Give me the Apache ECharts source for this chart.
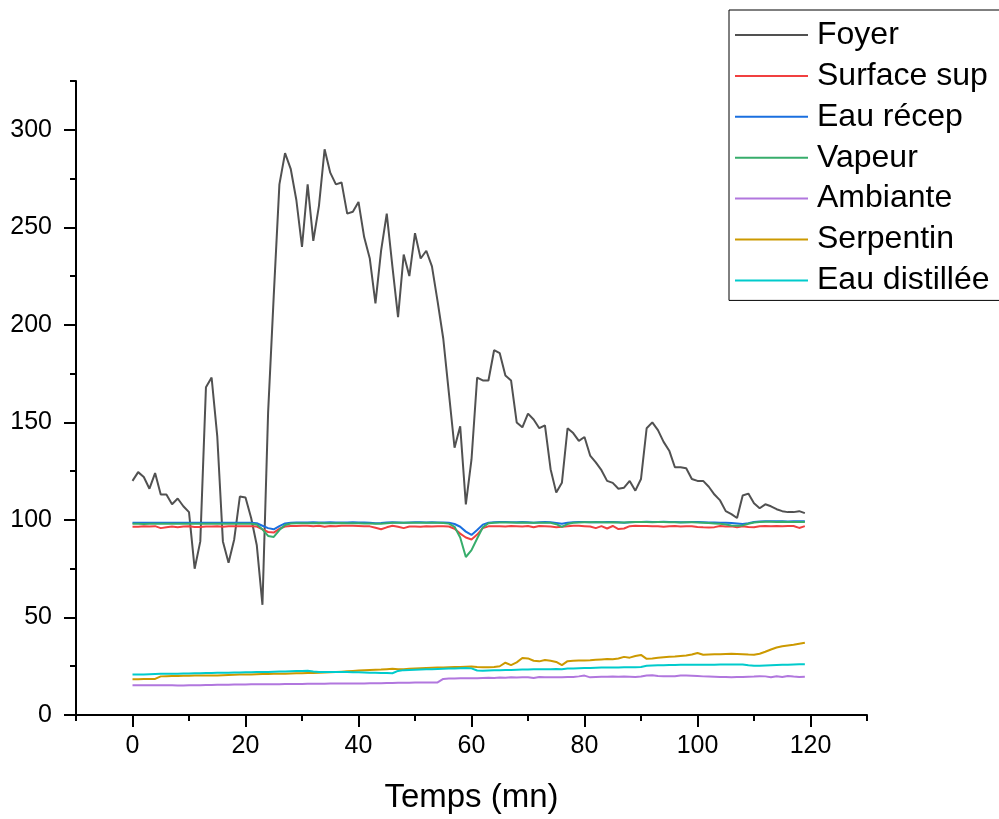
<!DOCTYPE html>
<html>
<head>
<meta charset="utf-8">
<script src="https://cdn.jsdelivr.net/npm/echarts@6/dist/echarts.min.js"></script>
<style>
html,body{margin:0;padding:0;background:#fff;}
#chart{width:999px;height:819px;}
</style>
</head>
<body>
<div id="chart"></div>
<script>
var time = [0,1,2,3,4,5,6,7,8,9,10,11,12,13,14,15,16,17,18,19,20,21,22,23,24,25,26,27,28,29,
30,31,32,33,34,35,36,37,38,39,40,41,42,43,44,45,46,47,48,49,50,51,52,53,54,55,56,57,58,59,
60,61,62,63,64,65,66,67,68,69,70,71,72,73,74,75,76,77,78,79,80,81,82,83,84,85,86,87,88,89,
90,91,92,93,94,95,96,97,98,99,100,101,102,103,104,105,106,107,108,109,110,111,112,113,114,115,116,117,118,119];

var foyer = [120,124.5,122,116,124,113,113,108,111,107,
104,75,89,168,173,143,89,78,90,112,
111.5,101,87,56.5,155,215,272,288,280,264,
240,272,243,261,290,278,272,273,257,258,
263,245,234,211,238,257,230,204,236,225,
247,234,238,230,212,193,165,137,148,108,
131,173,171.5,171.5,187,185.5,174,171.5,150,147.5,
154.5,151.5,147,148.5,126,114,119,147,144.5,140.5,
142.5,133,129.5,125.5,120,119,116,116.5,120,115,
121,147,150,146,140,135.5,127,127,126.5,121,
120,120,117,113,110,104.5,103,101,112.5,113.5,
108.5,106,108,107,105.5,104.5,104,104,104.5,103.5];

var surfaceSup = [96.5,96.5,96.8,96.6,96.8,95.8,96.2,96.6,96.3,96.6,
96.8,96.4,96.4,96.6,96.6,96.8,96.5,96.7,96.7,96.8,
96.8,96.8,96.6,95.2,93.8,93.5,95.5,96.6,96.9,96.9,
97,97,96.8,97,96.5,96.9,96.8,97,97,97,
96.9,96.8,96.7,96,95.2,96.2,97,96.5,95.8,96.6,
96.6,96.5,96.7,96.6,96.8,96.7,96.6,95.5,93,91,
90,92.5,95.8,96.7,96.8,96.8,96.6,96.9,96.8,96.6,
96.9,96.2,96.9,96.8,96.6,96.3,96.5,96.8,97,97,
96.8,96.6,95.8,96.8,95.6,96.9,95.3,95.6,96.8,97,
96.9,96.9,96.7,96.8,96.5,96.8,96.9,96.6,96.8,96.8,
96.4,96.2,96.1,96.3,96.9,96.6,96.7,96.2,96.8,96.4,
96.3,96.8,96.9,96.7,96.9,96.7,96.9,96.9,95.9,96.8];

var eauRecep = [98.6,98.6,98.5,98.5,98.6,98.6,98.6,98.5,98.5,98.6,
98.6,98.6,98.6,98.6,98.6,98.6,98.6,98.6,98.6,98.6,
98.6,98.6,98.3,97,95.8,95.2,96.8,98.2,98.6,98.7,
98.7,98.7,98.8,98.7,98.7,98.8,98.7,98.7,98.7,98.8,
98.7,98.7,98.6,98.3,98.4,98.7,98.8,98.7,98.6,98.7,
98.8,98.8,98.7,98.8,98.7,98.7,98.5,97.9,96.5,94,
92.3,94.8,97.6,98.6,98.8,98.9,98.9,98.8,98.8,98.9,
98.8,98.6,98.8,98.9,98.8,98.4,98,98.5,98.8,98.9,
98.9,98.8,98.9,98.8,98.9,98.9,98.8,98.6,98.8,98.9,
98.9,99,98.9,98.9,99,98.9,98.9,98.8,98.8,98.9,
98.9,98.8,98.7,98.7,98.6,98.5,98.4,98.2,97.9,98.3,
98.9,99.2,99.3,99.3,99.3,99.3,99.2,99.3,99.3,99.3];

var vapeur = [98,98,97.9,98,98,98,98.1,98,98,98,
98,98,98,98.1,98.1,98.1,98.1,98.1,98.1,98.1,
98.1,98,97.6,95.2,91.8,91.3,94.8,97.4,98.2,98.3,
98.3,98.3,98.3,98.4,98.3,98.3,98.3,98.4,98.3,98.3,
98.3,98.2,98.2,98,98.1,98.3,98.5,98.5,98.6,98.6,
98.6,98.5,98.6,98.5,98.5,98.4,98.1,96.5,91,81,
84.5,90.5,96.2,98.3,98.6,98.7,98.7,98.7,98.6,98.7,
98.6,98.5,98.6,98.6,98.5,97.8,96.4,97.9,98.6,98.7,
98.8,98.8,98.8,98.8,98.7,98.8,98.7,98.7,98.8,98.9,
98.9,98.9,98.8,98.9,98.9,98.8,98.8,98.7,98.8,98.8,
98.7,98.6,98.4,98.2,98,97.6,97.2,97,97.2,98,
98.7,98.9,99,99,98.9,99,98.9,98.9,98.9,98.9];

var ambiante = [15.3,15.3,15.3,15.3,15.2,15.2,15.2,15.2,15.1,15.1,
15.2,15.3,15.3,15.4,15.4,15.5,15.5,15.5,15.6,15.6,
15.6,15.7,15.7,15.7,15.8,15.8,15.8,15.9,15.9,15.9,
15.9,16,16,16,16,16.1,16.1,16.1,16.1,16.2,
16.2,16.2,16.3,16.3,16.3,16.4,16.4,16.5,16.5,16.5,
16.6,16.6,16.6,16.7,16.7,18.5,18.7,18.7,18.8,18.8,
18.9,18.9,19,19.1,19,19.2,19.1,19.3,19.2,19.3,
19.4,19,19.5,19.4,19.3,19.4,19.4,19.5,19.5,19.8,
20.2,19.3,19.5,19.6,19.6,19.7,19.6,19.7,19.6,19.5,
19.7,20.3,20.4,20,19.9,19.9,19.9,20.3,20.2,20.1,
20,19.8,19.7,19.6,19.5,19.5,19.4,19.5,19.5,19.6,
19.7,19.9,19.8,19.4,19.9,19.5,20,19.7,19.5,19.6];

var serpentin = [18.3,18.3,18.4,18.4,18.5,19.8,19.9,20,20,20.1,
20.1,20.2,20.2,20.2,20.3,20.3,20.4,20.5,20.6,20.7,
20.8,20.8,20.9,21,21,21.1,21.2,21.2,21.3,21.4,
21.4,21.5,21.5,21.7,21.8,21.9,22,22.2,22.4,22.6,
22.8,23,23.1,23.2,23.3,23.5,23.7,23.4,23.5,23.7,
23.9,24,24.1,24.2,24.3,24.4,24.5,24.6,24.6,24.7,
24.8,24.6,24.5,24.5,24.6,25,26.8,25.6,27,29.2,
29,27.8,27.5,28.2,27.8,27.2,25.6,27.6,27.8,27.9,
28,28.1,28.3,28.5,28.7,28.6,29,29.8,29.4,30.2,
30.8,28.8,29,29.3,29.6,29.8,30,30.3,30.5,31,
31.8,30.9,31,31.1,31.2,31.3,31.4,31.3,31.2,31,
30.9,31.4,32.4,33.6,34.6,35.2,35.6,36,36.5,37];

var eauDistillee = [20.7,20.8,20.8,20.9,21,21.1,21.1,21.2,21.2,21.3,
21.3,21.4,21.4,21.5,21.5,21.6,21.7,21.7,21.8,21.8,
21.9,21.9,22,22.1,22.1,22.2,22.3,22.3,22.4,22.5,
22.6,22.7,22.3,22.1,22.1,22.1,22,22,22,21.9,
21.9,21.8,21.7,21.6,21.5,21.5,21.4,22.6,23,23.1,
23.2,23.3,23.4,23.5,23.6,23.7,23.8,23.9,24,24.1,
23.9,22.8,22.7,22.8,22.9,23,23.1,23.1,23.2,23.3,
23.3,23.4,23.5,23.5,23.5,23.6,23.5,23.8,23.9,24,
24.1,24.1,24.2,24.3,24.3,24.4,24.4,24.5,24.5,24.5,
24.6,25.2,25.4,25.5,25.5,25.6,25.6,25.7,25.7,25.7,
25.8,25.8,25.8,25.8,25.9,25.9,25.9,25.9,25.9,25.5,
25.2,25.3,25.4,25.5,25.6,25.7,25.8,25.9,26,26];

var seriesNames = ['Foyer','Surface sup','Eau récep','Vapeur','Ambiante','Serpentin','Eau distillée'];
var seriesColors = ['#515151','#F14040','#1A6FDF','#37AD6B','#B177DE','#CC9900','#00CBCC'];
var seriesValues = [foyer, surfaceSup, eauRecep, vapeur, ambiante, serpentin, eauDistillee];

var xMajorTicks = [0,20,40,60,80,100,120];
var xMinorTicks = [-10,10,30,50,70,90,110,130];
var yMajorTicks = [0,50,100,150,200,250,300];
var yMinorTicks = [25,75,125,175,225,275,325];

var FONT = '"Liberation Sans", Arial, Helvetica, sans-serif';

function pairs(vals){ return vals.map(function(v,i){ return [time[i], v]; }); }

var chart = echarts.init(document.getElementById('chart'), null, {renderer:'canvas'});
chart.setOption({
  animation: false,
  backgroundColor: '#ffffff',
  textStyle: {fontFamily: FONT},
  grid: {left: 76, right: 132, top: 81, bottom: 101, containLabel: false},
  legend: {
    orient: 'vertical',
    left: 729, top: 10,
    padding: [9, 30, 4, 6],
    borderColor: '#000', borderWidth: 1,
    icon: 'rect', itemWidth: 73, itemHeight: 2, itemGap: 8.9,
    textStyle: {fontFamily: FONT, fontSize: 32, lineHeight: 31, color: '#000', padding: [0,0,0,4]},
    data: seriesNames
  },
  xAxis: [{
    type: 'value', min: -10, max: 130,
    name: 'Temps (mn)', nameLocation: 'middle', nameGap: 66,
    nameTextStyle: {fontFamily: FONT, fontSize: 33, color: '#000'},
    axisLine: {show: true, onZero: false, lineStyle: {color: '#000', width: 2}},
    axisTick: {show: true, inside: false, length: 12, lineStyle: {color: '#000', width: 2}, customValues: xMajorTicks},
    axisLabel: {show: true, margin: 19, fontSize: 25, color: '#000', fontFamily: FONT, customValues: xMajorTicks},
    splitLine: {show: false}
  },{
    type: 'value', min: -10, max: 130, position: 'bottom',
    axisLine: {show: false, onZero: false},
    axisTick: {show: true, inside: false, length: 6, lineStyle: {color: '#000', width: 2}, customValues: xMinorTicks},
    axisLabel: {show: false},
    splitLine: {show: false}
  }],
  yAxis: [{
    type: 'value', min: 0, max: 325,
    axisLine: {show: true, onZero: false, lineStyle: {color: '#000', width: 2}},
    axisTick: {show: true, inside: false, length: 12, lineStyle: {color: '#000', width: 2}, customValues: yMajorTicks},
    axisLabel: {show: true, margin: 24, fontSize: 25, color: '#000', fontFamily: FONT, customValues: yMajorTicks},
    splitLine: {show: false}
  },{
    type: 'value', min: 0, max: 325, position: 'left',
    axisLine: {show: false, onZero: false},
    axisTick: {show: true, inside: false, length: 6, lineStyle: {color: '#000', width: 2}, customValues: yMinorTicks},
    axisLabel: {show: false},
    splitLine: {show: false}
  }],
  series: seriesNames.map(function(n, k){
    return {
      name: n, type: 'line', xAxisIndex: 0, yAxisIndex: 0,
      data: pairs(seriesValues[k]),
      symbol: 'none', showSymbol: false, smooth: false,
      color: seriesColors[k],
      lineStyle: {color: seriesColors[k], width: 2},
      itemStyle: {color: seriesColors[k]},
      emphasis: {disabled: true}
    };
  })
});
</script>
</body>
</html>
